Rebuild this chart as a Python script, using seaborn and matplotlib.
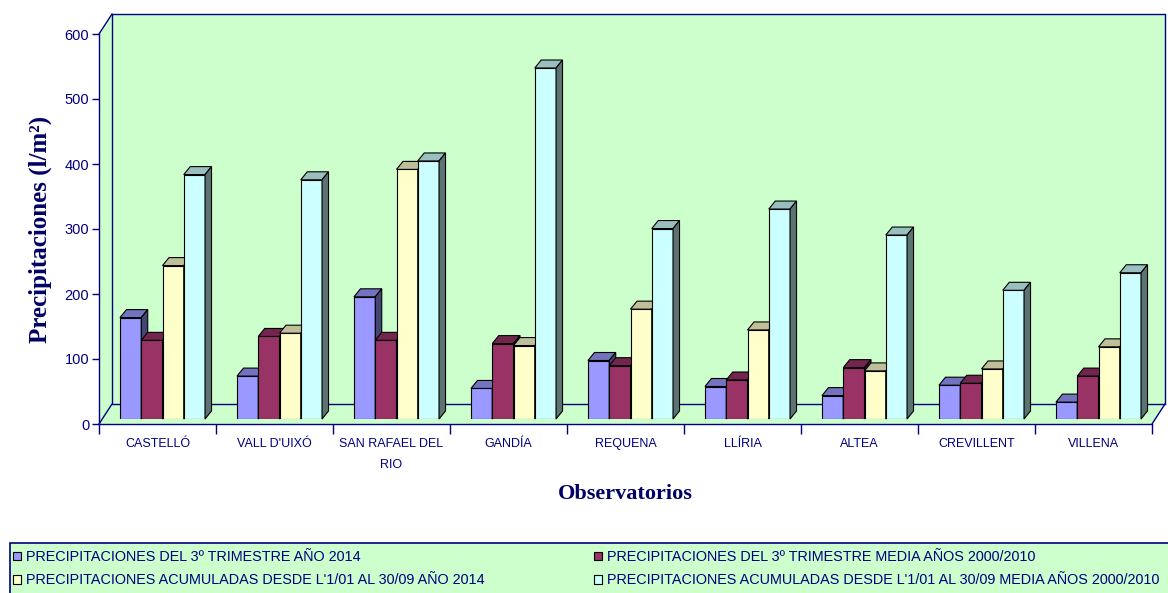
import matplotlib
matplotlib.use("Agg")
import matplotlib.pyplot as plt
from matplotlib.patches import Polygon, Rectangle, Patch
from matplotlib.colors import to_rgb
from matplotlib.transforms import ScaledTranslation
import seaborn as sns
import pandas as pd

# data (l/m2)
stations = ["CASTELLÓ", "VALL D'UIXÓ", "SAN RAFAEL DEL\nRIO", "GANDÍA", "REQUENA",
            "LLÍRIA", "ALTEA", "CREVILLENT", "VILLENA"]
series = [
    "PRECIPITACIONES DEL 3º TRIMESTRE AÑO 2014",
    "PRECIPITACIONES DEL 3º TRIMESTRE MEDIA AÑOS 2000/2010",
    "PRECIPITACIONES ACUMULADAS DESDE L'1/01 AL 30/09 AÑO 2014",
    "PRECIPITACIONES ACUMULADAS DESDE L'1/01 AL 30/09 MEDIA AÑOS 2000/2010",
]
trim_2014 = [156, 66, 188, 47, 90, 50, 36, 52, 26]
trim_media = [121, 127, 121, 116, 82, 60, 79, 55, 66]
acum_2014 = [236, 132, 384, 113, 169, 137, 74, 77, 111]
acum_media = [376, 368, 397, 540, 293, 323, 283, 198, 225]
yticks = [0, 100, 200, 300, 400, 500, 600]

colors = ["#9999FF", "#993366", "#FFFFCC", "#CCFFFF"]
green = "#CCFFCC"
navy = "#000080"

df = pd.DataFrame({
    "station": stations * 4,
    "serie": [s for s in series for _ in stations],
    "value": trim_2014 + trim_media + acum_2014 + acum_media,
})

sns.set_theme(style="white")
plt.rcParams["font.family"] = ["Liberation Sans", "DejaVu Sans"]

W, H = 1168, 593
fig = plt.figure(figsize=(W / 100, H / 100), dpi=100)

# front axis (ticks, labels) and the bar axes, shifted into the depth a bit
axf = fig.add_axes([99 / W, (H - 424) / H, 1053 / W, 390 / H])
ax = fig.add_axes([104 / W, (H - 419) / H, 1053 / W, 390 / H])
axf.set_zorder(0)
ax.set_zorder(1)

# 3d box: walls and floor in front-axis coordinates
dx, dy = 13 / 1053, 20 / 390
box = Polygon([(0, 0), (0, 1), (dx, 1 + dy), (1 + dx, 1 + dy), (1 + dx, dy), (1, 0)],
              closed=True, transform=axf.transAxes, facecolor=green, edgecolor="none",
              clip_on=False, zorder=0)
axf.add_patch(box)
edges = [
    [(dx, dy), (dx, 1 + dy)],
    [(dx, dy), (1 + dx, dy)],
    [(dx, 1 + dy), (1 + dx, 1 + dy)],
    [(1 + dx, dy), (1 + dx, 1 + dy)],
    [(0, 0), (dx, dy)],
    [(0, 1), (dx, 1 + dy)],
    [(1, 0), (1 + dx, dy)],
]
for e in edges:
    axf.plot([e[0][0], e[1][0]], [e[0][1], e[1][1]], transform=axf.transAxes,
             color=navy, lw=1, clip_on=False, zorder=1)

axf.set_facecolor("none")
axf.set_xlim(-0.5, 8.5)
axf.set_ylim(0, 600)
for side in ["top", "right"]:
    axf.spines[side].set_visible(False)
for side in ["left", "bottom"]:
    axf.spines[side].set_color(navy)
    axf.spines[side].set_linewidth(1)
axf.set_yticks(yticks)
axf.set_yticklabels([str(t) for t in yticks], fontsize=10.5, color=navy)
axf.tick_params(axis="y", length=5, width=1, color=navy, pad=2, left=True)
axf.set_xticks([i - 0.5 for i in range(len(stations) + 1)])
axf.set_xticklabels([])
axf.tick_params(axis="x", which="major", length=7, width=1, color=navy, bottom=True)
axf.grid(False)

# category names, one baseline per line
for i, name in enumerate(stations):
    for j, line in enumerate(name.split("\n")):
        tr = axf.get_xaxis_transform() + ScaledTranslation(0, -(23 + 21 * j) / 100,
                                                           fig.dpi_scale_trans)
        axf.text(i, 0, line, transform=tr, ha="center", va="baseline", fontsize=9,
                 color=navy, clip_on=False)

# bars
sns.barplot(data=df, x="station", y="value", hue="serie", order=stations,
            hue_order=series, palette=colors, width=0.727, edgecolor="black",
            linewidth=0.8, saturation=1, legend=False, ax=ax)
ax.set_xlim(-0.5, 8.5)
ax.set_ylim(0, 600)
ax.axis("off")

# 3d faces for each bar
ddx = 6.5 / 117
ddy = 8 / 0.65
for p in list(ax.patches):
    x0, w, h = p.get_x(), p.get_width(), p.get_height()
    if w <= 0:
        continue
    base = to_rgb(p.get_facecolor())
    z = 3 + (x0 + 1) * 0.1
    p.set_zorder(z)
    top = Polygon([(x0, h), (x0 + w, h), (x0 + w + ddx, h + ddy), (x0 + ddx, h + ddy)],
                  closed=True, facecolor=[c * 0.75 for c in base], edgecolor="black",
                  linewidth=0.8, zorder=z, clip_on=False)
    side = Polygon([(x0 + w, 0), (x0 + w, h), (x0 + w + ddx, h + ddy), (x0 + w + ddx, ddy)],
                   closed=True, facecolor=[c * 0.45 for c in base], edgecolor="black",
                   linewidth=0.8, zorder=z, clip_on=False)
    ax.add_patch(top)
    ax.add_patch(side)

# axis titles
fig.text(40 / W, 1 - 229 / H, "Precipitaciones (l/m²)", rotation=90, ha="center",
         va="center", fontsize=18, fontweight="bold", family="Liberation Serif",
         color="#000066")
fig.text(625 / W, 1 - 494 / H, "Observatorios", ha="center", va="center",
         fontsize=16, fontweight="bold", family="Liberation Serif", color="#000066")

# legend box at the bottom
fig.patches.append(Rectangle((10 / W, -0.01), 1.0, 50 / H + 0.01, transform=fig.transFigure,
                             facecolor=green, edgecolor=navy, linewidth=1.2, zorder=0))
handles = [Patch(facecolor=c, edgecolor="black", linewidth=0.8) for c in colors]
for col, xpos in enumerate([13 / W, 594 / W]):
    leg = fig.legend(handles[col::2], series[col::2], loc="upper left",
                     bbox_to_anchor=(xpos, 1 - 550 / H), frameon=False, fontsize=10.4,
                     handlelength=0.55, handleheight=0.55, handletextpad=0.35,
                     labelspacing=0.65, borderpad=0, borderaxespad=0)
    for t in leg.get_texts():
        t.set_color(navy)

fig.savefig("out.png", dpi=100)
